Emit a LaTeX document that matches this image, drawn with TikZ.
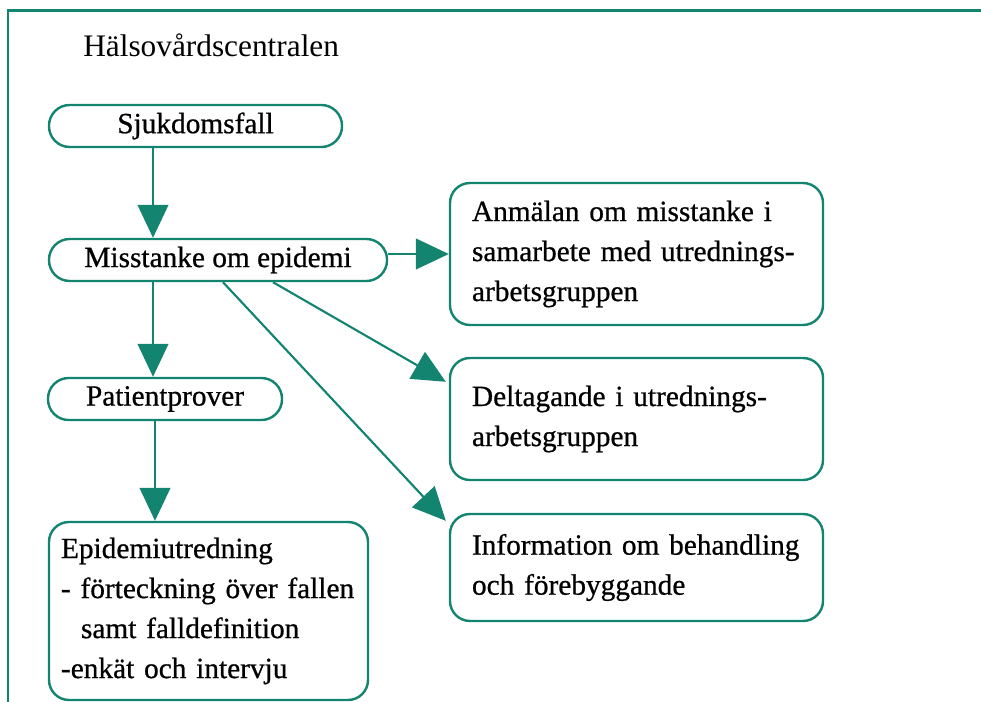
\documentclass[tikz,border=0pt]{standalone}
\usepackage{fontspec}
\setmainfont{Liberation Serif}
\newfontfamily\hvserif[FakeBold=0.7]{Liberation Serif}
\usetikzlibrary{arrows.meta}
\definecolor{hvteal}{HTML}{12846F}
\newcommand{\hvbody}{\hvserif\fontsize{22}{30}\selectfont}
\newcommand{\hvtitle}{\fontsize{23.5}{28}\selectfont}
\begin{document}
\begin{tikzpicture}[x=0.75pt,y=-0.75pt,
  pill/.style={draw=hvteal, line width=1.8pt, rounded corners=15.5pt,
    minimum height=31.5pt, inner sep=0pt, font=\hvbody},
  card/.style={draw=hvteal, line width=1.8pt, rounded corners=15pt,
    align=left, inner ysep=0pt, inner xsep=16.5pt, text width=246.75pt,
    minimum width=279.75pt, font=\hvbody},
  link/.style={draw=hvteal, line width=1.6pt,
    -{Triangle[length=24.75pt,width=23pt]}},
  frameline/.style={draw=hvteal, line width=1.9pt}]
  \clip (0,0) rectangle (981,702);

  % outer frame, open towards the right and the bottom
  \draw[frameline] (8,720) -- (8,10.5) -- (1000,10.5);

  \node[anchor=base west, inner sep=0pt, font=\hvtitle] (title) at (83,57) {Hälsovårdscentralen};

  % left column
  \node[pill, minimum width=219.75pt] (sjuk) at (195.5,126) {Sjukdomsfall};
  \node[pill, minimum width=253.5pt] (miss) at (218,260) {Misstanke om epidemi};
  \node[pill, minimum width=175.5pt] (pat) at (165,399) {Patientprover};
  \node[card, inner xsep=9pt, text width=221.25pt, minimum width=239.25pt,
        minimum height=133.5pt] (epi) at (208.5,611)
    {Epidemiutredning\\\mbox{- förteckning över fallen}\\\hspace*{15pt}samt falldefinition\\-enkät och intervju};

  % right column
  \node[card, minimum height=106.5pt] (anm) at (636.5,254)
    {Anmälan om misstanke i\\samarbete med utrednings-\\arbetsgruppen};
  \node[card, minimum height=91.5pt] (del) at (636.5,419)
    {Deltagande i utrednings-\\arbetsgruppen};
  \node[card, minimum height=80.25pt] (inf) at (636.5,567.5)
    {Information om behandling\\och förebyggande};

  % connector columns and end points
  \coordinate (colA) at (153,0);
  \coordinate (colB) at (155,0);
  \coordinate (fromD) at (273,0);
  \coordinate (fromI) at (223,0);
  \coordinate (tipD) at ([shift={(-3,25)}]del.north west);
  \coordinate (tipI) at ([shift={(-3,8)}]inf.north west);

  \draw[link] (sjuk.south -| colA) -- (miss.north -| colA);
  \draw[link] (miss.south -| colA) -- (pat.north -| colA);
  \draw[link] (pat.south -| colB) -- (epi.north -| colB);
  \draw[link] (miss.east |- anm.west) -- (anm.west);
  \draw[link] (miss.south -| fromD) -- (tipD);
  \draw[link] (miss.south -| fromI) -- (tipI);
\end{tikzpicture}
\end{document}
